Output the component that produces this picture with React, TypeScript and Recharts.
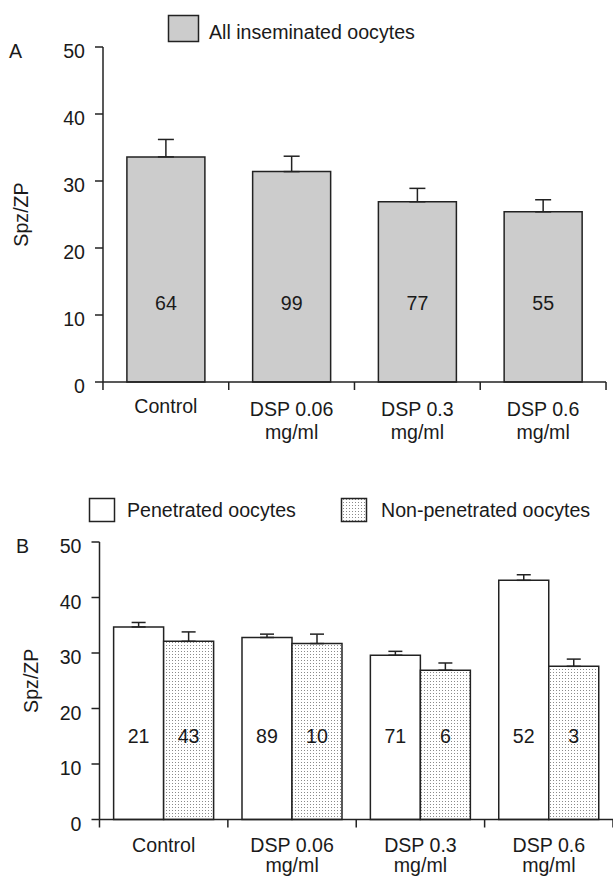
import { BarChart, Bar, XAxis, YAxis, ErrorBar, LabelList } from "recharts"

const categories = ["Control", "DSP 0.06", "DSP 0.3", "DSP 0.6"]
const unitLines = ["", "mg/ml", "mg/ml", "mg/ml"]
const yTicks = [0, 10, 20, 30, 40, 50]

// panel A: all inseminated oocytes
const allMean = [33.6, 31.4, 26.9, 25.4]
const allSem = [2.6, 2.3, 2.0, 1.8]
const allN = [64, 99, 77, 55]

// panel B: penetrated vs non-penetrated
const penMean = [34.7, 32.8, 29.6, 43.1]
const penSem = [0.8, 0.6, 0.7, 1.0]
const penN = [21, 89, 71, 52]
const nonMean = [32.1, 31.7, 26.9, 27.6]
const nonSem = [1.7, 1.7, 1.3, 1.3]
const nonN = [43, 10, 6, 3]

const dataA = categories.map((name, i) => ({
  name,
  mean: allMean[i],
  err: [0, allSem[i]],
  n: allN[i],
}))

const dataB = categories.map((name, i) => ({
  name,
  pen: penMean[i],
  penErr: [0, penSem[i]],
  penN: penN[i],
  non: nonMean[i],
  nonErr: [0, nonSem[i]],
  nonN: nonN[i],
}))

const FONT = "'Liberation Sans', Arial, Helvetica, sans-serif"
const INK = "#1a1a1a"
const LINE = "#222"
const FS = 19.6

const yTick = (props: any) => {
  const { x, y, payload } = props
  return (
    <text x={x} y={y + 11} textAnchor="end" fontFamily={FONT} fontSize={FS} fill={INK}>
      {payload.value}
    </text>
  )
}

const makeXTick = (half: number, single: number, first: number, second: number) => (props: any) => {
  const { x, y, payload, index } = props
  const i = categories.indexOf(payload.value)
  const unit = unitLines[i]
  return (
    <g>
      <line x1={x - half} x2={x - half} y1={y} y2={y + 8} stroke={LINE} strokeWidth={1.5} />
      {index === categories.length - 1 && (
        <line x1={x + half} x2={x + half} y1={y} y2={y + 8} stroke={LINE} strokeWidth={1.5} />
      )}
      <text x={x} y={y + (unit ? first : single)} textAnchor="middle" fontFamily={FONT} fontSize={FS} fill={INK}>
        {payload.value}
      </text>
      {unit && (
        <text x={x} y={y + second} textAnchor="middle" fontFamily={FONT} fontSize={FS} fill={INK}>
          {unit}
        </text>
      )}
    </g>
  )
}

const makeCount = (lift: number) => (props: any) => {
  const { x, y, width, height, value } = props
  return (
    <text
      x={Number(x) + Number(width) / 2}
      y={Number(y) + Number(height) - lift}
      textAnchor="middle"
      fontFamily={FONT}
      fontSize={FS}
      fill={INK}
    >
      {value}
    </text>
  )
}

const yTitle = (cx: number) => (props: any) => {
  const { viewBox } = props
  const cy = viewBox.y + viewBox.height / 2
  return (
    <text
      x={cx}
      y={cy}
      transform={`rotate(-90, ${cx}, ${cy})`}
      textAnchor="middle"
      dominantBaseline="central"
      fontFamily={FONT}
      fontSize={FS}
      fill={INK}
    >
      Spz/ZP
    </text>
  )
}

export default function App() {
  return (
    <div style={{ position: "absolute", left: 0, top: 0, width: 613, height: 878, background: "#fff", overflow: "hidden" }}>
      <svg width={613} height={878} style={{ position: "absolute", left: 0, top: 0, pointerEvents: "none" }}>
        <defs>
          <pattern id="dots" width={3} height={3} patternUnits="userSpaceOnUse">
            <rect width={3} height={3} fill="#fff" />
            <rect x={1} y={1} width={1} height={1} fill="#8a8a8a" />
          </pattern>
        </defs>
        <text x={9} y={58} fontFamily={FONT} fontSize={FS} fill={INK}>A</text>
        <rect x={168.5} y={15.5} width={30} height={26} fill="#cccccc" stroke={LINE} strokeWidth={1.5} />
        <text x={209} y={39} fontFamily={FONT} fontSize={FS} fill={INK}>All inseminated oocytes</text>

        <text x={16} y={553} fontFamily={FONT} fontSize={FS} fill={INK}>B</text>
        <rect x={89.5} y={498.5} width={25} height={23} fill="#fff" stroke={LINE} strokeWidth={1.5} />
        <text x={127} y={517} fontFamily={FONT} fontSize={FS} fill={INK}>Penetrated oocytes</text>
        <rect x={341.5} y={498.5} width={25} height={23} fill="url(#dots)" stroke={LINE} strokeWidth={1.5} />
        <text x={381} y={517} fontFamily={FONT} fontSize={FS} fill={INK}>Non-penetrated oocytes</text>
      </svg>

      <div style={{ position: "absolute", left: 0, top: 0 }}>
        <BarChart
          width={613}
          height={462}
          data={dataA}
          margin={{ top: 47, right: 7, bottom: 0, left: 43 }}
          barCategoryGap="19%"
        >
          <XAxis
            dataKey="name"
            height={80}
            axisLine={{ stroke: LINE, strokeWidth: 1.5 }}
            tickLine={false}
            tickSize={0}
            tickMargin={0}
            interval={0}
            tick={makeXTick(62.9, 31, 34, 57)}
          />
          <YAxis
            width={60}
            domain={[0, 50]}
            ticks={yTicks}
            axisLine={{ stroke: LINE, strokeWidth: 1.5 }}
            tickLine={{ stroke: LINE, strokeWidth: 1.5 }}
            tickSize={8}
            tickMargin={10}
            tick={yTick}
            label={yTitle(21)}
          />
          <Bar dataKey="mean" fill="#cccccc" stroke={LINE} strokeWidth={1.5} isAnimationActive={false}>
            <ErrorBar dataKey="err" width={8} stroke={LINE} strokeWidth={1.5} />
            <LabelList dataKey="n" content={makeCount(72)} />
          </Bar>
        </BarChart>
      </div>

      <div style={{ position: "absolute", left: 0, top: 440 }}>
        <BarChart
          width={613}
          height={438}
          data={dataB}
          margin={{ top: 102, right: 0, bottom: 0, left: 39.5 }}
          barCategoryGap="11%"
          barGap={0}
        >
          <XAxis
            dataKey="name"
            height={58.5}
            axisLine={{ stroke: LINE, strokeWidth: 1.5 }}
            tickLine={false}
            tickSize={0}
            tickMargin={0}
            interval={0}
            tick={makeXTick(64.2, 32, 32, 52)}
          />
          <YAxis
            width={60}
            domain={[0, 50]}
            ticks={yTicks}
            axisLine={{ stroke: LINE, strokeWidth: 1.5 }}
            tickLine={{ stroke: LINE, strokeWidth: 1.5 }}
            tickSize={8}
            tickMargin={10}
            tick={yTick}
            label={yTitle(31)}
          />
          <Bar dataKey="pen" fill="#fff" stroke={LINE} strokeWidth={1.5} isAnimationActive={false}>
            <ErrorBar dataKey="penErr" width={7} stroke={LINE} strokeWidth={1.5} />
            <LabelList dataKey="penN" content={makeCount(77)} />
          </Bar>
          <Bar dataKey="non" fill="url(#dots)" stroke={LINE} strokeWidth={1.5} isAnimationActive={false}>
            <ErrorBar dataKey="nonErr" width={7} stroke={LINE} strokeWidth={1.5} />
            <LabelList dataKey="nonN" content={makeCount(77)} />
          </Bar>
        </BarChart>
      </div>
    </div>
  )
}
